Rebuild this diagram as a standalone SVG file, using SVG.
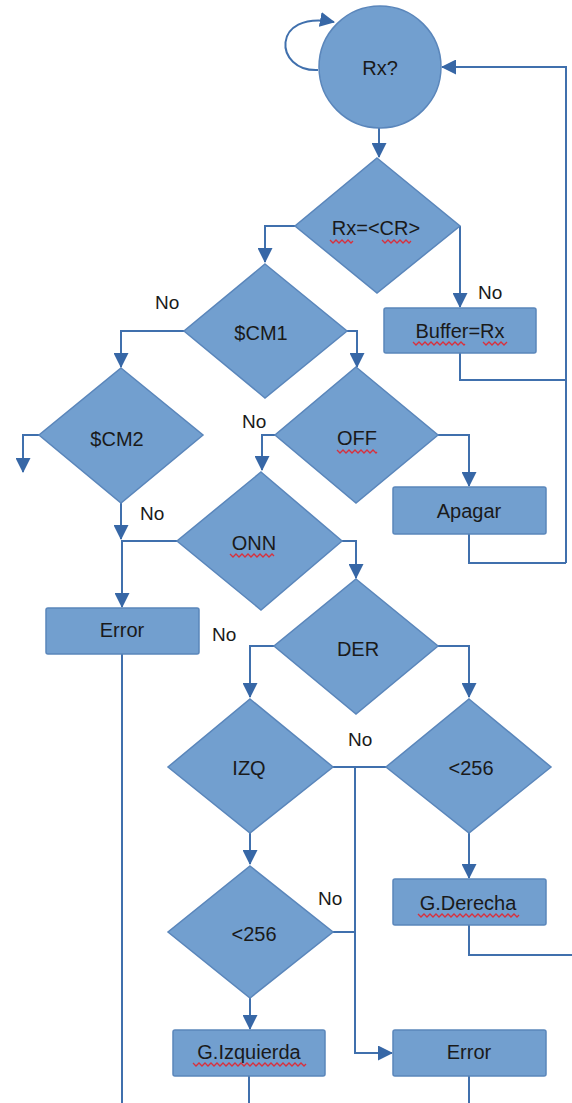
<svg xmlns="http://www.w3.org/2000/svg" width="572" height="1103" viewBox="0 0 572 1103">
  <style>
    .shape { fill: #729fcf; stroke: #5a86bb; stroke-width: 1.5; }
    .lbl { font-family: "Liberation Sans", Arial, sans-serif; font-size: 20px; fill: #1a1a1a; text-anchor: middle; }
    .no { font-family: "Liberation Sans", Arial, sans-serif; font-size: 19px; fill: #1a1a1a; }
    .link { fill: none; stroke: #4070ad; stroke-width: 2; }
    .arrow { marker-end: url(#ah); }
    .spell { fill: none; stroke: #d9303c; stroke-width: 1.3; }
  </style>
  <defs>
    <marker id="ah" markerWidth="15" markerHeight="15" refX="14" refY="7.5" orient="auto" markerUnits="userSpaceOnUse">
      <path d="M0,0 L15,7.5 L0,15 z" fill="#3767a6"/>
    </marker>
  </defs>

  <rect width="572" height="1103" fill="#ffffff"/>

  <!-- connectors -->
  <g id="connectors">
    <path class="link arrow" d="M318,70 C274,72 270,10 334,22"/>
    <path class="link arrow" d="M379,128 V157"/>
    <path class="link arrow" d="M295,226 H265 V262"/>
    <path class="link arrow" d="M460,226 V307"/>
    <path class="link" d="M460,353 V380 H566"/>
    <path class="link arrow" d="M566,563 V67 H442"/>
    <path class="link arrow" d="M184,331 H121 V367"/>
    <path class="link arrow" d="M347,331 H357 V367"/>
    <path class="link arrow" d="M39,435 H23 V472"/>
    <path class="link arrow" d="M121,503 V539"/>
    <path class="link arrow" d="M177,541 H122 V607"/>
    <path class="link" d="M122,654 V1103"/>
    <path class="link arrow" d="M275,435 H262 V470"/>
    <path class="link arrow" d="M438,435 H469 V486"/>
    <path class="link" d="M469,534 V563 H566"/>
    <path class="link arrow" d="M342,541 H356 V578"/>
    <path class="link arrow" d="M274,646 H250 V697"/>
    <path class="link arrow" d="M438,646 H469 V697"/>
    <path class="link" d="M333,767 H386"/>
    <path class="link arrow" d="M355,767 V1053 H392"/>
    <path class="link arrow" d="M250,833 V864"/>
    <path class="link arrow" d="M469,833 V878"/>
    <path class="link" d="M469,925 V955 H572"/>
    <path class="link" d="M333,932 H355"/>
    <path class="link arrow" d="M250,998 V1029"/>
    <path class="link" d="M249,1076 V1103"/>
    <path class="link" d="M469,1076 V1103"/>
  </g>

  <!-- branch labels -->
  <g id="branch-labels">
    <text class="no" x="478" y="299">No</text>
    <text class="no" x="155" y="309">No</text>
    <text class="no" x="242" y="428">No</text>
    <text class="no" x="140" y="520">No</text>
    <text class="no" x="212" y="641">No</text>
    <text class="no" x="348" y="746">No</text>
    <text class="no" x="318" y="905">No</text>
  </g>

  <g id="start">
    <circle class="shape" cx="380" cy="67" r="61"/>
    <text class="lbl" x="380" y="75" font-size="21">Rx?</text>
  </g>

  <g id="check-cr">
    <polygon class="shape" points="377,158 460,226 377,293 295,226"/>
    <text class="lbl" x="376" y="235">Rx=&lt;CR&gt;</text>
    <path class="spell" d="M330,240 l3,3 l3,-3 l3,3 l3,-3 l3,3 l3,-3 l3,3 l2,-2 M382,240 l3,3 l3,-3 l3,3 l3,-3 l3,3 l3,-3 l3,3 l3,-3 l3,3 l2,-2"/>
  </g>

  <g id="buffer">
    <rect class="shape" x="384" y="308" width="152" height="45" rx="2"/>
    <text class="lbl" x="460" y="338">Buffer=Rx</text>
    <path class="spell" d="M413,342 l3,3 l3,-3 l3,3 l3,-3 l3,3 l3,-3 l3,3 l3,-3 l3,3 l3,-3 l3,3 l3,-3 l3,3 l3,-3 l3,3 l3,-3 l3,3 l1,-1 M483,342 l3,3 l3,-3 l3,3 l3,-3 l3,3 l3,-3 l3,3 l3,-3"/>
  </g>

  <g id="cm1">
    <polygon class="shape" points="265,264 347,331 265,398 184,331"/>
    <text class="lbl" x="261" y="340">$CM1</text>
  </g>

  <g id="cm2">
    <polygon class="shape" points="121,368 203,435 121,503 39,435"/>
    <text class="lbl" x="117" y="446">$CM2</text>
  </g>

  <g id="off">
    <polygon class="shape" points="356,367 438,435 356,503 275,435"/>
    <text class="lbl" x="357" y="445">OFF</text>
    <path class="spell" d="M337,450 l3,3 l3,-3 l3,3 l3,-3 l3,3 l3,-3 l3,3 l3,-3 l3,3 l3,-3 l3,3 l3,-3 l3,3 l1,-1"/>
  </g>

  <g id="apagar">
    <rect class="shape" x="393" y="487" width="153" height="47" rx="2"/>
    <text class="lbl" x="469" y="518">Apagar</text>
  </g>

  <g id="onn">
    <polygon class="shape" points="261,472 342,541 261,610 177,541"/>
    <text class="lbl" x="254" y="550">ONN</text>
    <path class="spell" d="M230,554 l3,3 l3,-3 l3,3 l3,-3 l3,3 l3,-3 l3,3 l3,-3 l3,3 l3,-3 l3,3 l3,-3 l3,3 l3,-3 l2,2"/>
  </g>

  <g id="error-1">
    <rect class="shape" x="46" y="608" width="153" height="46" rx="2"/>
    <text class="lbl" x="122" y="637">Error</text>
  </g>

  <g id="der">
    <polygon class="shape" points="356,579 438,646 356,714 274,646"/>
    <text class="lbl" x="358" y="656">DER</text>
  </g>

  <g id="izq">
    <polygon class="shape" points="250,699 333,767 250,833 168,767"/>
    <text class="lbl" x="249" y="775">IZQ</text>
  </g>

  <g id="limit-right">
    <polygon class="shape" points="469,699 551,767 469,833 386,767"/>
    <text class="lbl" x="471" y="775">&lt;256</text>
  </g>

  <g id="g-derecha">
    <rect class="shape" x="393" y="879" width="153" height="46" rx="2"/>
    <text class="lbl" x="468" y="910">G.Derecha</text>
    <path class="spell" d="M418,914 l3,3 l3,-3 l3,3 l3,-3 l3,3 l3,-3 l3,3 l3,-3 l3,3 l3,-3 l3,3 l3,-3 l3,3 l3,-3 l3,3 l3,-3 l3,3 l3,-3 l3,3 l3,-3 l3,3 l3,-3 l3,3 l3,-3 l3,3 l3,-3 l3,3 l3,-3 l3,3 l3,-3 l3,3 l3,-3 l3,3 l2,-2"/>
  </g>

  <g id="limit-left">
    <polygon class="shape" points="250,866 333,932 250,998 168,932"/>
    <text class="lbl" x="254" y="941">&lt;256</text>
  </g>

  <g id="g-izquierda">
    <rect class="shape" x="173" y="1030" width="152" height="46" rx="2"/>
    <text class="lbl" x="249" y="1059">G.Izquierda</text>
    <path class="spell" d="M193,1063 l3,3 l3,-3 l3,3 l3,-3 l3,3 l3,-3 l3,3 l3,-3 l3,3 l3,-3 l3,3 l3,-3 l3,3 l3,-3 l3,3 l3,-3 l3,3 l3,-3 l3,3 l3,-3 l3,3 l3,-3 l3,3 l3,-3 l3,3 l3,-3 l3,3 l3,-3 l3,3 l3,-3 l3,3 l3,-3 l3,3 l3,-3 l3,3 l3,-3 l3,3 l2,-2"/>
  </g>

  <g id="error-2">
    <rect class="shape" x="393" y="1030" width="153" height="46" rx="2"/>
    <text class="lbl" x="469" y="1059">Error</text>
  </g>
</svg>
